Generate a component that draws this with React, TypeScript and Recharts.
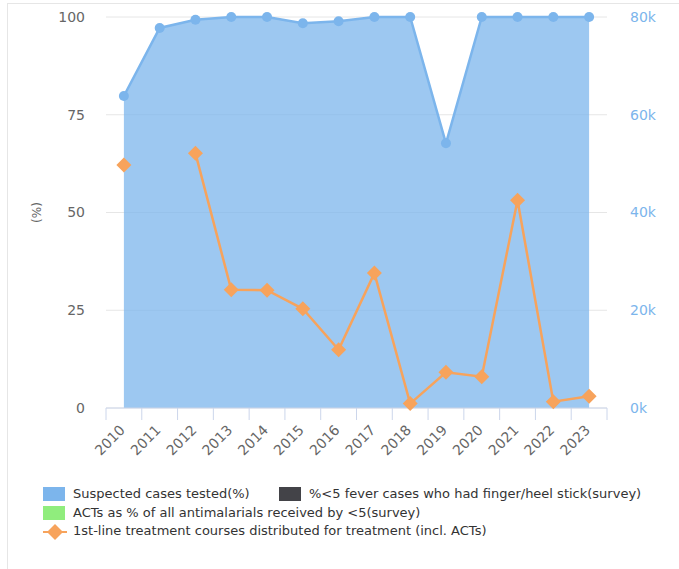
import React from 'react'
import {
  ComposedChart,
  Area,
  Line,
  XAxis,
  YAxis,
  CartesianGrid
} from 'recharts'

const years = ['2010', '2011', '2012', '2013', '2014', '2015', '2016', '2017', '2018', '2019', '2020', '2021', '2022', '2023']
// Suspected cases tested (%)
const testedPct = [79.8, 97.2, 99.3, 100, 100, 98.4, 98.9, 100, 100, 67.7, 100, 100, 100, 100]
// 1st-line treatment courses distributed (count, right axis)
const courses = [49700, null, 52100, 24200, 24100, 20300, 11900, 27600, 900, 7300, 6400, 42500, 1300, 2400]

const pctTicks = [0, 25, 50, 75, 100]
const countTicks = [0, 20000, 40000, 60000, 80000]

const legendItems = [
  { name: 'Suspected cases tested(%)', color: '#7cb5ec', kind: 'box' },
  { name: '%<5 fever cases who had finger/heel stick(survey)', color: '#434348', kind: 'box' },
  { name: 'ACTs as % of all antimalarials received by <5(survey)', color: '#90ed7d', kind: 'box' },
  { name: '1st-line treatment courses distributed for treatment (incl. ACTs)', color: '#f7a35c', kind: 'line' }
]

const data = years.map((year, i) => ({
  year,
  tested: testedPct[i],
  courses: courses[i]
}))

const W = 679
const H = 470
const LEFT_W = 106
const RIGHT_W = 72
const BAND = (W - LEFT_W - RIGHT_W) / years.length
const FONT = '"DejaVu Sans", Verdana, sans-serif'

function YearTick(props: any) {
  const { x, y, payload, index } = props
  return (
    <g>
      <line x1={x - BAND / 2} x2={x - BAND / 2} y1={y} y2={y + 12} stroke="#ccd6eb" />
      {index === years.length - 1 && (
        <line x1={x + BAND / 2} x2={x + BAND / 2} y1={y} y2={y + 12} stroke="#ccd6eb" />
      )}
      <text
        x={x + 2}
        y={y + 23}
        textAnchor="end"
        fill="#666666"
        fontSize={14}
        fontFamily={FONT}
        transform={`rotate(-45 ${x + 2} ${y + 23})`}
      >
        {payload.value}
      </text>
    </g>
  )
}

function Diamond(props: any) {
  const { cx, cy, value, index } = props
  if (value == null || cx == null || cy == null) return <g key={`d-${index}`} />
  const r = 7.5
  return (
    <path
      key={`d-${index}`}
      d={`M${cx},${cy - r} L${cx + r},${cy} L${cx},${cy + r} L${cx - r},${cy} Z`}
      fill="#f7a35c"
    />
  )
}

function Legend() {
  return (
    <div
      style={{
        position: 'absolute',
        left: 43,
        top: 485,
        fontFamily: FONT,
        fontSize: 13,
        color: '#333333',
        lineHeight: '18.7px'
      }}
    >
      {[[0, 1], [2], [3]].map((row, r) => (
        <div key={r} style={{ display: 'flex', alignItems: 'center', whiteSpace: 'nowrap' }}>
          {row.map((idx) => {
            const item = legendItems[idx]
            return (
              <div key={idx} style={{ display: 'flex', alignItems: 'center', width: idx === 0 ? 236 : undefined }}>
                {item.kind === 'box' ? (
                  <span style={{ display: 'inline-block', width: 22, height: 14, background: item.color, marginRight: 8 }} />
                ) : (
                  <svg width={24} height={16} style={{ marginRight: 6 }}>
                    <line x1={0} x2={24} y1={8} y2={8} stroke={item.color} strokeWidth={2} />
                    <path d="M12,0 L20,8 L12,16 L4,8 Z" fill={item.color} />
                  </svg>
                )}
                <span>{item.name}</span>
              </div>
            )
          })}
        </div>
      ))}
    </div>
  )
}

export default function App() {
  return (
    <div style={{ position: 'absolute', left: 0, top: 0, width: 679, height: 569, overflow: 'hidden', background: '#fff' }}>
      <div style={{ position: 'absolute', left: 7, top: 3, width: 700, height: 600, border: '1px solid #e6e6e6' }} />
      <div style={{ position: 'absolute', left: 0, top: 0 }}>
        <ComposedChart width={W} height={H} data={data} margin={{ top: 17, right: 0, bottom: 0, left: 0 }}>
          <CartesianGrid yAxisId="left" vertical={false} stroke="#e6e6e6" />
          <XAxis
            dataKey="year"
            interval={0}
            height={62}
            padding={{ left: BAND / 2, right: BAND / 2 }}
            tickSize={0}
            tickMargin={0}
            tickLine={false}
            stroke="#ccd6eb"
            tick={<YearTick />}
          />
          <YAxis
            yAxisId="left"
            width={LEFT_W}
            domain={[0, 100]}
            ticks={pctTicks}
            axisLine={false}
            tickLine={false}
            tickSize={0}
            tickMargin={21}
            tick={{ fill: '#666666', fontSize: 14, fontFamily: FONT }}
            label={{
              content: (p: any) => {
                const vb = p.viewBox
                const cy = vb.y + vb.height / 2
                return (
                  <text
                    x={37}
                    y={cy}
                    textAnchor="middle"
                    dominantBaseline="central"
                    fill="#666666"
                    fontSize={12}
                    fontFamily={FONT}
                    transform={`rotate(-90 37 ${cy})`}
                  >
                    (%)
                  </text>
                )
              }
            }}
          />
          <YAxis
            yAxisId="right"
            orientation="right"
            width={RIGHT_W}
            domain={[0, 80000]}
            ticks={countTicks}
            axisLine={false}
            tickLine={false}
            tickSize={0}
            tickMargin={23}
            tickFormatter={(v: number) => `${v / 1000}k`}
            tick={{ fill: '#7cb5ec', fontSize: 14, fontFamily: FONT, textAnchor: 'start' }}
          />
          <Area
            yAxisId="left"
            type="linear"
            dataKey="tested"
            stroke="#7cb5ec"
            strokeWidth={2.5}
            fill="#7cb5ec"
            fillOpacity={0.75}
            dot={{ r: 5, fill: '#7cb5ec', stroke: 'none', fillOpacity: 1 }}
            activeDot={false}
            isAnimationActive={false}
          />
          <Line
            yAxisId="right"
            type="linear"
            dataKey="courses"
            stroke="#f7a35c"
            strokeWidth={2.5}
            connectNulls={false}
            dot={<Diamond />}
            activeDot={false}
            isAnimationActive={false}
          />
        </ComposedChart>
      </div>
      <Legend />
    </div>
  )
}
